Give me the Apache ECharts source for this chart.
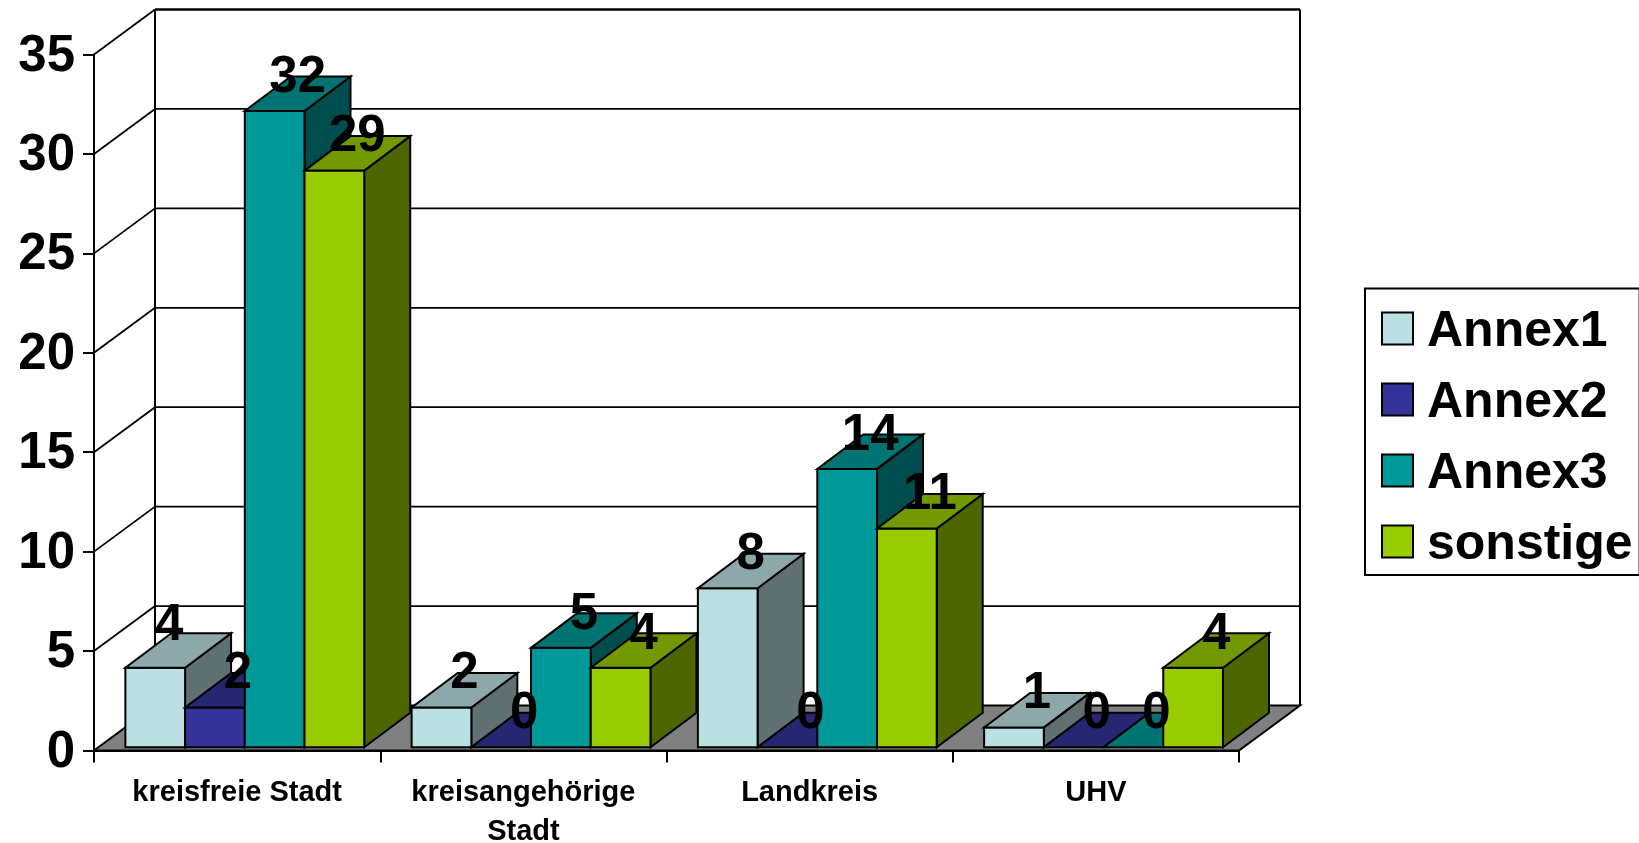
<!DOCTYPE html>
<html>
<head>
<meta charset="utf-8">
<title>Annex je Gebietstyp</title>
<script src="https://cdn.jsdelivr.net/npm/echarts@6/dist/echarts.min.js"></script>
<style>
  html, body { margin: 0; padding: 0; background: #fff; overflow: hidden; }
  #chart { width: 1639px; height: 843px; }
</style>
</head>
<body>
<div id="chart"></div>
<script>
// Category and series values
const categories = ['kreisfreie Stadt', 'kreisangehörige\nStadt', 'Landkreis', 'UHV'];
const annex1 = [4, 2, 8, 1];
const annex2 = [2, 0, 0, 0];
const annex3 = [32, 5, 14, 0];
const sonstige = [29, 4, 11, 4];
const seriesNames = ['Annex1', 'Annex2', 'Annex3', 'sonstige'];
const wallTicks = [0, 5, 10, 15, 20, 25, 30, 35];

// Face colours of each box: front, top, right side
const palette = [
  { front: '#BBE0E3', top: '#8CA8AA', side: '#5E7072' },
  { front: '#333399', top: '#262673', side: '#1A1A4D' },
  { front: '#009999', top: '#007373', side: '#004D4D' },
  { front: '#99CC00', top: '#739900', side: '#4D6600' }
];

// Oblique projection of the chart box, in pixels
const WALL_DX = 61, WALL_DY = -45;
const BAR_DX = 46, BAR_DY = -34.5;
const BAR_SHIFT_Y = -3.2;
const BAR_START = 0.1096, BAR_WIDTH = 0.2086;
const FONT = '"Liberation Sans", Arial, sans-serif';
const INK = '#000';

function boxFrame(api, catIndex, seriesIndex, value) {
  const band = api.size([1, 0])[0];
  const centre = api.coord([catIndex, value]);
  const base = api.coord([catIndex, 0]);
  const width = band * BAR_WIDTH;
  const x = centre[0] - band / 2 + band * BAR_START + seriesIndex * width;
  return { x, width, top: centre[1] + BAR_SHIFT_Y, bottom: base[1] + BAR_SHIFT_Y };
}

function polygon(points, fill, lineWidth) {
  return {
    type: 'polygon',
    shape: { points },
    style: { fill, stroke: INK, lineWidth: lineWidth || 2, lineJoin: 'miter' }
  };
}

function renderBox(seriesIndex) {
  return function (params, api) {
    const cat = api.value(0);
    const f = boxFrame(api, cat, seriesIndex, api.value(1));
    const c = palette[seriesIndex];
    const x0 = f.x, x1 = f.x + f.width;
    const children = [];
    if (f.bottom - f.top > 0.5) {
      children.push(polygon([[x1, f.top], [x1 + BAR_DX, f.top + BAR_DY], [x1 + BAR_DX, f.bottom + BAR_DY], [x1, f.bottom]], c.side));
      children.push(polygon([[x0, f.top], [x1, f.top], [x1, f.bottom], [x0, f.bottom]], c.front));
    }
    children.push(polygon([[x0, f.top], [x1, f.top], [x1 + BAR_DX, f.top + BAR_DY], [x0 + BAR_DX, f.top + BAR_DY]], c.top));
    return { type: 'group', children };
  };
}

function renderWall(params, api) {
  const v = api.value(0);
  const sys = params.coordSys;
  const y = api.coord([0, v])[1];
  const left = sys.x, right = sys.x + sys.width;
  const backY = y + WALL_DY;
  const children = [];
  const line = (x1, y1, x2, y2, w) => ({
    type: 'line',
    shape: { x1, y1, x2, y2 },
    style: { stroke: INK, lineWidth: w, fill: null }
  });
  if (v === 0) {
    children.push(polygon([[left, y], [right, y], [right + WALL_DX, backY], [left + WALL_DX, backY]], '#808080', 2));
    children.push(line(left + WALL_DX, backY, left + WALL_DX, sys.y + WALL_DY, 2));
    children.push(line(right + WALL_DX, backY, right + WALL_DX, sys.y + WALL_DY, 2));
  } else {
    children.push(line(left, y, left + WALL_DX, backY, 1.8));
    children.push(line(left + WALL_DX, backY, right + WALL_DX, backY, v === 35 ? 2.5 : 1.8));
  }
  return { type: 'group', children };
}

function renderValueLabel(params, api) {
  const cat = api.value(0), value = api.value(1), s = api.value(2);
  const f = boxFrame(api, cat, s, value);
  // The first "4" sits a little up and to the left of its box
  const nudge = (s === 0 && cat === 0) ? -9 : 0;
  return {
    type: 'text',
    x: f.x + f.width / 2 + BAR_DX / 2 + nudge,
    y: f.top + BAR_DY / 2 - 16 + nudge,
    style: {
      text: String(value),
      fill: INK,
      font: 'bold 51px ' + FONT,
      align: 'center',
      verticalAlign: 'middle'
    }
  };
}

const seriesValues = [annex1, annex2, annex3, sonstige];
const labelRows = [];
seriesValues.forEach((vals, s) => vals.forEach((v, c) => labelRows.push([c, v, s])));

const option = {
  backgroundColor: '#fff',
  animation: false,
  textStyle: { fontFamily: FONT },
  grid: { left: 94, right: 400, top: 54.5, bottom: 92.5, containLabel: false, outerBoundsMode: 'none' },
  legend: {
    orient: 'vertical',
    left: 1365,
    top: 288.5,
    data: seriesNames,
    icon: 'rect',
    itemWidth: 31,
    itemHeight: 32,
    itemGap: 21,
    padding: [19, 7, 4.5, 16],
    borderColor: INK,
    borderWidth: 2,
    backgroundColor: '#fff',
    selectedMode: false,
    itemStyle: { borderColor: INK, borderWidth: 2 },
    formatter: name => '{n|' + name + '}',
    textStyle: {
      fontFamily: FONT, fontWeight: 'bold', fontSize: 50, color: INK,
      padding: [0, 0, 0, 9],
      rich: {
        n: {
          fontFamily: FONT, fontWeight: 'bold', fontSize: 50, color: INK,
          padding: [8, 0, 0, 0]
        }
      }
    }
  },
  xAxis: {
    type: 'category',
    data: categories,
    boundaryGap: true,
    axisLine: { lineStyle: { color: INK, width: 2 } },
    axisTick: { show: true, length: 12, alignWithLabel: false, lineStyle: { color: INK, width: 2 } },
    axisLabel: {
      interval: 0, margin: 23, color: INK, fontFamily: FONT,
      fontWeight: 'bold', fontSize: 29, lineHeight: 39
    }
  },
  yAxis: {
    type: 'value',
    min: 0,
    max: 35,
    interval: 5,
    splitLine: { show: false },
    axisLine: { show: true, lineStyle: { color: INK, width: 2 } },
    axisTick: { show: true, length: 11, lineStyle: { color: INK, width: 2 } },
    axisLabel: {
      margin: 19, color: INK, fontFamily: FONT, fontWeight: 'bold', fontSize: 51,
      verticalAlign: 'top', lineHeight: 4
    }
  },
  series: [
    {
      name: 'wand',
      type: 'custom',
      z: 1,
      silent: true,
      renderItem: renderWall,
      encode: { y: 0 },
      data: wallTicks.map(v => [v])
    },
    ...seriesValues.map((vals, s) => ({
      name: seriesNames[s],
      type: 'custom',
      z: 2,
      silent: true,
      renderItem: renderBox(s),
      itemStyle: { color: palette[s].front },
      encode: { x: 0, y: 1 },
      data: vals.map((v, c) => [c, v])
    })),
    {
      name: 'werte',
      type: 'custom',
      z: 5,
      silent: true,
      renderItem: renderValueLabel,
      encode: { x: 0, y: 1 },
      data: labelRows
    }
  ]
};

const chart = echarts.init(document.getElementById('chart'), null, { renderer: 'canvas' });
chart.setOption(option);
</script>
</body>
</html>
